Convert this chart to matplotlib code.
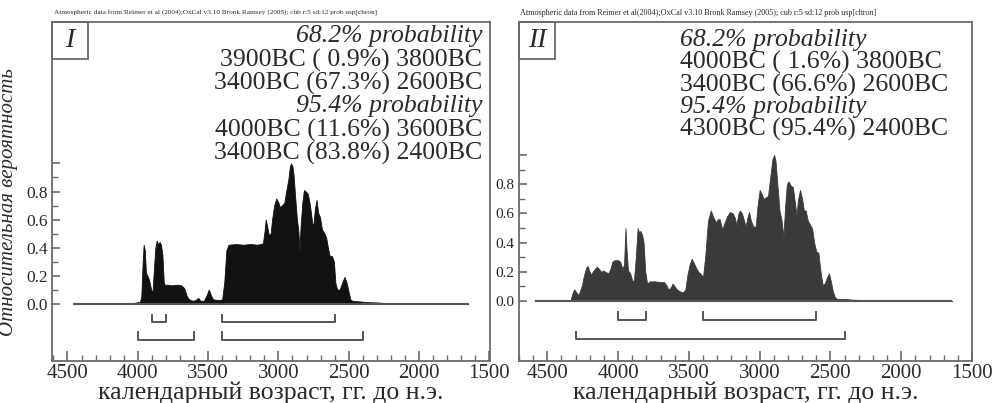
import matplotlib
matplotlib.use("Agg")
import matplotlib.pyplot as plt
from matplotlib.patches import Rectangle
from matplotlib.ticker import MultipleLocator, FixedLocator

plt.rcParams['font.family'] = ['Liberation Serif', 'DejaVu Serif']

# ---------------- data ----------------
years_I = [4460, 4050, 4000, 3985, 3975, 3965, 3958, 3950, 3942, 3932, 3920, 3905, 3895,
           3885, 3875, 3865, 3855, 3845, 3835, 3825, 3815, 3805, 3790, 3760, 3720, 3690,
           3670, 3650, 3635, 3610, 3590, 3570, 3555, 3530, 3510, 3495, 3480, 3465, 3420,
           3400, 3385, 3370, 3355, 3300, 3250, 3200, 3150, 3110, 3098, 3090, 3080, 3068,
           3055, 3045, 3030, 3015, 3000, 2990, 2975, 2958, 2945, 2930, 2918, 2910, 2900,
           2892, 2880, 2868, 2858, 2850, 2842, 2830, 2818, 2805, 2790, 2775, 2760, 2752,
           2740, 2728, 2718, 2705, 2690, 2672, 2660, 2648, 2635, 2620, 2605, 2595, 2582,
           2565, 2550, 2530, 2515, 2500, 2488, 2475, 2420, 2360, 2300, 2230, 2150, 1650]
prob_I = [0.0, 0.0, 0.01, 0.01, 0.05, 0.30, 0.42, 0.38, 0.22, 0.20, 0.17, 0.10, 0.08,
          0.25, 0.40, 0.45, 0.42, 0.44, 0.42, 0.35, 0.15, 0.13, 0.135, 0.13, 0.135, 0.13,
          0.11, 0.05, 0.03, 0.02, 0.025, 0.04, 0.02, 0.02, 0.06, 0.10, 0.06, 0.03, 0.025,
          0.03, 0.15, 0.38, 0.42, 0.425, 0.42, 0.425, 0.42, 0.43, 0.52, 0.60, 0.55, 0.49,
          0.50, 0.60, 0.70, 0.75, 0.72, 0.69, 0.70, 0.72, 0.80, 0.88, 0.98, 1.00, 0.98,
          0.92, 0.75, 0.60, 0.52, 0.38, 0.55, 0.72, 0.81, 0.80, 0.78, 0.70, 0.58, 0.55,
          0.68, 0.74, 0.65, 0.62, 0.53, 0.50, 0.47, 0.40, 0.34, 0.34, 0.30, 0.15, 0.10,
          0.10, 0.14, 0.19, 0.15, 0.08, 0.03, 0.02, 0.015, 0.01, 0.008, 0.003, 0.0, 0.0]

years_II = [4590, 4345, 4335, 4320, 4310, 4295, 4280, 4265, 4255, 4240, 4225, 4215, 4205,
            4192, 4180, 4165, 4150, 4135, 4120, 4105, 4090, 4068, 4055, 4040, 4025, 4000,
            3985, 3970, 3958, 3948, 3940, 3930, 3915, 3900, 3888, 3875, 3862, 3852, 3842,
            3830, 3820, 3808, 3795, 3775, 3740, 3700, 3675, 3660, 3645, 3630, 3615, 3600,
            3585, 3560, 3540, 3525, 3510, 3495, 3480, 3465, 3450, 3434, 3420, 3400, 3385,
            3365, 3345, 3330, 3310, 3295, 3282, 3265, 3250, 3230, 3210, 3190, 3175, 3164,
            3150, 3140, 3125, 3110, 3099, 3087, 3075, 3062, 3045, 3028, 3015, 3000, 2985,
            2972, 2955, 2941, 2925, 2910, 2898, 2888, 2875, 2860, 2845, 2832, 2820, 2808,
            2796, 2780, 2765, 2752, 2740, 2728, 2715, 2700, 2688, 2675, 2660, 2643, 2630,
            2615, 2600, 2585, 2570, 2555, 2540, 2525, 2511, 2498, 2484, 2470, 2455, 2400,
            2350, 2296, 2230, 2150, 1640]
prob_II = [0.0, 0.0, 0.01, 0.06, 0.08, 0.06, 0.04, 0.08, 0.11, 0.18, 0.23, 0.24, 0.21,
           0.18, 0.20, 0.22, 0.235, 0.22, 0.20, 0.21, 0.20, 0.19, 0.22, 0.27, 0.28, 0.28,
           0.27, 0.22, 0.25, 0.50, 0.35, 0.21, 0.19, 0.14, 0.14, 0.30, 0.50, 0.47, 0.48,
           0.45, 0.40, 0.20, 0.12, 0.135, 0.135, 0.13, 0.13, 0.11, 0.08, 0.09, 0.12, 0.10,
           0.08, 0.065, 0.06, 0.08, 0.18, 0.25, 0.29, 0.26, 0.23, 0.20, 0.19, 0.165, 0.30,
           0.55, 0.62, 0.58, 0.54, 0.56, 0.56, 0.49, 0.53, 0.58, 0.61, 0.60, 0.57, 0.52,
           0.60, 0.62, 0.60, 0.55, 0.51, 0.57, 0.61, 0.55, 0.51, 0.51, 0.65, 0.76, 0.73,
           0.70, 0.71, 0.72, 0.85, 0.97, 1.00, 0.96, 0.80, 0.62, 0.55, 0.44, 0.65, 0.80,
           0.82, 0.79, 0.78, 0.68, 0.59, 0.70, 0.76, 0.70, 0.62, 0.62, 0.55, 0.52, 0.50,
           0.40, 0.34, 0.33, 0.20, 0.11, 0.12, 0.16, 0.19, 0.14, 0.07, 0.03, 0.015, 0.015,
           0.01, 0.008, 0.003, 0.001, 0.0]

ranges68_I = [(3900, 3800), (3400, 2600)]
ranges95_I = [(4000, 3600), (3400, 2400)]
ranges68_II = [(4000, 3800), (3400, 2600)]
ranges95_II = [(4300, 2400)]

text_I = ["68.2% probability", "3900BC ( 0.9%) 3800BC", "3400BC (67.3%) 2600BC",
          "95.4% probability", "4000BC (11.6%) 3600BC", "3400BC (83.8%) 2400BC"]
text_II = ["68.2% probability", "4000BC ( 1.6%) 3800BC", "3400BC (66.6%) 2600BC",
           "95.4% probability", "4300BC (95.4%) 2400BC"]

header_I = "Atmospheric data from Reimer et al (2004);OxCal v3.10 Bronk Ramsey (2005); cub r:5 sd:12 prob usp[chron]"
header_II = "Atmospheric data from Reimer et al(2004);OxCal v3.10 Bronk Ramsey (2005); cub r:5 sd:12 prob usp[chron]"

xticks = [4500, 4000, 3500, 3000, 2500, 2000, 1500]
yticks = [0.0, 0.2, 0.4, 0.6, 0.8]
xlabel = "календарный возраст, гг. до н.э."
ylabel = "Относительная вероятность"

# ---------------- figure ----------------
W, H = 993, 403
fig = plt.figure(figsize=(W / 100, H / 100), dpi=100)

def axrect(l, r, t, b):
    return [l / W, 1 - b / H, (r - l) / W, (b - t) / H]

ax1 = fig.add_axes(axrect(52, 490, 22, 361))
ax2 = fig.add_axes(axrect(519, 972, 22, 361))

spine_col = '#6a6a6a'
text_col = '#2a2a2a'
line_col = '#555555'

def style(ax, xlim, ylim, ytick_size):
    ax.set_xlim(*xlim)
    ax.set_ylim(*ylim)
    for s in ax.spines.values():
        s.set_color(spine_col)
        s.set_linewidth(1.3)
    ax.xaxis.set_major_locator(FixedLocator(xticks))
    ax.xaxis.set_minor_locator(MultipleLocator(100))
    ax.yaxis.set_major_locator(FixedLocator(yticks + [1.0]))
    ax.yaxis.set_minor_locator(FixedLocator([0.1, 0.3, 0.5, 0.7, 0.9]))
    ax.set_yticklabels([f"{v:.1f}" for v in yticks] + [""])
    ax.tick_params(axis='x', which='major', direction='in', length=7, width=1.2,
                   color=spine_col, labelsize=15, labelcolor=text_col, pad=2, top=False)
    ax.tick_params(axis='x', which='minor', direction='in', length=4, width=1.0,
                   color=spine_col, top=False)
    ax.tick_params(axis='y', which='major', direction='in', length=6, width=1.2,
                   color=spine_col, labelsize=ytick_size, labelcolor=text_col, pad=3, right=False)
    ax.tick_params(axis='y', which='minor', direction='in', length=4, width=1.0,
                   color=spine_col, right=False)
    ax.set_xlabel(xlabel, fontsize=18.5, color=text_col, labelpad=-1)

def draw(ax, years, prob, fill_col, r68, r95, y68, y95, bh):
    ax.fill_between(years, 0, prob, color=fill_col, linewidth=0.6, edgecolor=fill_col)
    ax.hlines(0, min(years), max(years), color=line_col, linewidth=1.5)
    for rows, yy in ((r68, y68), (r95, y95)):
        for a, b in rows:
            ax.plot([a, a, b, b], [yy + bh, yy, yy, yy + bh], color=line_col, linewidth=1.4)

def corner(ax, label, w_px, h_px, W_ax, H_ax):
    ax.add_patch(Rectangle((0, 1 - h_px / H_ax), w_px / W_ax, h_px / H_ax, transform=ax.transAxes,
                           fill=False, edgecolor=spine_col, linewidth=1.3, clip_on=False))
    ax.text(w_px / W_ax / 2, 1 - h_px / H_ax / 2, label, transform=ax.transAxes,
            ha='center', va='center', fontsize=20, style='italic', color=text_col)

def block(ax, lines, xfrac, ha, centers_px, H_ax, size):
    for line, cy in zip(lines, centers_px):
        italic = 'probability' in line
        ax.text(xfrac, 1 - (cy - 22) / H_ax, line, transform=ax.transAxes, ha=ha, va='center',
                fontsize=size, style='italic' if italic else 'normal', color=text_col)

# Panel I
style(ax1, (4610, 1495), (-0.41, 2.01), 12.5)
draw(ax1, years_I, prob_I, '#111111', ranges68_I, ranges95_I, -0.135, -0.26, 0.055)
corner(ax1, "I", 36, 37, 438, 339)
block(ax1, text_I, 0.982, 'right', [36, 60, 83, 106, 130, 153], 339, 18.5)
ax1.set_ylabel(ylabel, fontsize=15, style='italic', color=text_col)
ax1.yaxis.set_label_coords(-0.077, 0.47)
fig.text(54 / W, 1 - 13 / H, header_I, fontsize=5.2, color=text_col, ha='left', va='center')

# Panel II
style(ax2, (4700, 1500), (-0.41, 1.91), 11)
draw(ax2, years_II, prob_II, '#3a3a3a', ranges68_II, ranges95_II, -0.128, -0.26, 0.05)
corner(ax2, "II", 36, 37, 453, 339)
block(ax2, text_II, 0.355, 'left', [40, 62, 85, 107, 129], 339, 18.5)
fig.text(520 / W, 1 - 13 / H, header_II, fontsize=5.9, color=text_col, ha='left', va='center')

fig.savefig("out.png", dpi=100, facecolor='white')
